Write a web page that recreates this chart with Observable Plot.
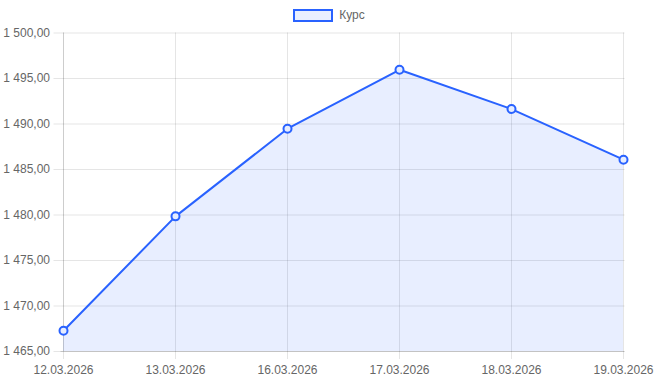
<!DOCTYPE html>
<html>
<head>
<meta charset="utf-8">
<script src="https://cdn.jsdelivr.net/npm/d3@7"></script>
<script src="https://cdn.jsdelivr.net/npm/@observablehq/plot@0.6"></script>
<style>
  html, body { margin: 0; padding: 0; background: #fff; }
  body { width: 658px; height: 380px; overflow: hidden; font-family: "Liberation Sans", Arial, Helvetica, sans-serif; }
  .legend { height: 24px; display: flex; justify-content: center; align-items: flex-start; padding-top: 9px; box-sizing: border-box; font-size: 12px; color: #666; }
  .legend .sw { width: 36px; height: 9px; border: 2px solid #2962ff; background: rgba(41,98,255,0.1); margin-right: 6px; margin-top: 0px; }
  .legend span { line-height: 13px; }
</style>
</head>
<body>
<div class="legend"><div class="sw"></div><span id="lbl"></span></div>
<div id="chart"></div>
<script>
const seriesName = "Курс";
const dates = ["12.03.2026", "13.03.2026", "16.03.2026", "17.03.2026", "18.03.2026", "19.03.2026"];
const rates = [1467.28, 1479.85, 1489.48, 1495.96, 1491.64, 1486.08];
const yTicks = [1465, 1470, 1475, 1480, 1485, 1490, 1495, 1500];

document.getElementById("lbl").textContent = seriesName;

const data = dates.map((d, i) => ({date: d, value: rates[i]}));
const loc = d3.formatLocale({decimal: ",", thousands: "\u00a0", grouping: [3], currency: ["", ""]});
const fmt = loc.format(",.2f");
const blue = "#2962ff";

const chart = Plot.plot({
  width: 658,
  height: 356,
  marginTop: 8.5,
  marginBottom: 29,
  marginLeft: 60.5,
  marginRight: 33.5,
  style: {fontFamily: "'Liberation Sans', Arial, Helvetica, sans-serif", fontSize: "12px", color: "#666", background: "#fff", overflow: "visible"},
  x: {type: "point", domain: dates, padding: 0, label: null},
  y: {domain: [1465, 1500], label: null},
  marks: [
    Plot.gridY(yTicks, {stroke: "#000", strokeOpacity: 0.1}),
    Plot.gridX(dates, {stroke: "#000", strokeOpacity: 0.1}),
    Plot.areaY(data, {x: "date", y1: 1465, y2: "value", fill: blue, fillOpacity: 0.11, curve: "linear"}),
    Plot.ruleY([1465], {stroke: "#000", strokeOpacity: 0.15}),
    Plot.ruleX([dates[0]], {stroke: "#000", strokeOpacity: 0.1}),
    Plot.axisY(yTicks, {tickFormat: fmt, tickSize: 7, tickPadding: 4, stroke: "#000", strokeOpacity: 0.1, fill: "#666", label: null}),
    Plot.axisX(dates, {tickSize: 8, tickPadding: 6, stroke: "#000", strokeOpacity: 0.1, fill: "#666", label: null}),
    Plot.line(data, {x: "date", y: "value", stroke: blue, strokeWidth: 2}),
    Plot.dot(data, {x: "date", y: "value", r: 4, stroke: blue, strokeWidth: 2, fill: "#e6edff"})
  ]
});
document.getElementById("chart").appendChild(chart);
</script>
</body>
</html>
